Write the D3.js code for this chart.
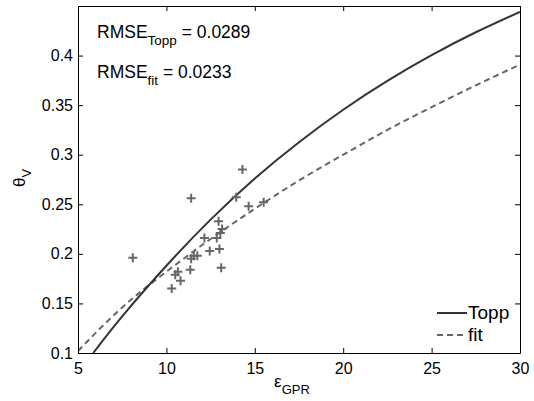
<!DOCTYPE html>
<html>
<head>
<meta charset="utf-8">
<script src="https://cdn.jsdelivr.net/npm/d3@7.9.0/dist/d3.min.js"></script>
<style>
  body { margin: 0; background: #fff; }
  svg { font-family: "Liberation Sans", Arial, sans-serif; }
</style>
</head>
<body>
<svg id="chart"></svg>
<script>
// measured points (permittivity, water content)
let epsMeas = [8.1, 10.3, 10.5, 10.65, 10.8, 11.35, 11.4, 11.55, 11.75, 12.15, 12.45,
  12.85, 12.95, 13.0, 13.05, 13.15, 13.1, 11.4, 13.95, 14.3, 14.65, 15.5];
let thetaMeas = [0.196, 0.165, 0.179, 0.182, 0.173, 0.184, 0.195, 0.198, 0.198, 0.216, 0.203,
  0.216, 0.233, 0.205, 0.221, 0.225, 0.186, 0.256, 0.257, 0.285, 0.248, 0.252];

// curves
let toppEps = [5.86, 7.5, 10, 12.5, 15, 17.5, 20, 22.5, 25, 27.5, 30];
let toppTheta = [0.100, 0.137, 0.188, 0.2345, 0.276, 0.3126, 0.3454, 0.3745, 0.4004, 0.4235, 0.4441];
let fitEps = [5, 7.5, 10, 12.5, 15, 17.5, 20, 22.5, 25, 27.5, 30];
let fitTheta = [0.102, 0.146, 0.182, 0.215, 0.2455, 0.274, 0.300, 0.325, 0.348, 0.370, 0.391];

let xTicks = [5, 10, 15, 20, 25, 30];
let yTicks = [0.1, 0.15, 0.2, 0.25, 0.3, 0.35, 0.4];

let svg = d3.select('#chart').attr('width', 534).attr('height', 401);
let margin = { top: 6, right: 14, bottom: 48, left: 78 };
let width = 534 - margin.left - margin.right;
let height = 401 - margin.top - margin.bottom;
let g = svg.append('g').attr('transform', `translate(${margin.left},${margin.top})`);

let x = d3.scaleLinear().domain([5, 30]).range([0, width]);
let y = d3.scaleLinear().domain([0.1, 0.45]).range([height, 0]);

g.append('defs').append('clipPath').attr('id', 'clip')
  .append('rect').attr('width', width).attr('height', height);

let line = d3.line().x(d => x(d[0])).y(d => y(d[1])).curve(d3.curveNatural);

let plot = g.append('g').attr('clip-path', 'url(#clip)');

plot.append('path')
  .datum(d3.zip(fitEps, fitTheta))
  .attr('d', line)
  .attr('fill', 'none')
  .attr('stroke', '#666')
  .attr('stroke-width', 2)
  .attr('stroke-dasharray', '6,4');

plot.append('path')
  .datum(d3.zip(toppEps, toppTheta))
  .attr('d', line)
  .attr('fill', 'none')
  .attr('stroke', '#333')
  .attr('stroke-width', 2);

let s = 4.5;
g.selectAll('path.pt')
  .data(d3.zip(epsMeas, thetaMeas))
  .join('path')
  .attr('class', 'pt')
  .attr('d', d => `M${x(d[0]) - s},${y(d[1])}H${x(d[0]) + s}M${x(d[0])},${y(d[1]) - s}V${y(d[1]) + s}`)
  .attr('stroke', '#666')
  .attr('stroke-width', 2)
  .attr('fill', 'none');

// axes, MATLAB style: inward ticks on all four sides
let fmt = d => String(d);
g.append('g')
  .attr('transform', `translate(0,${height})`)
  .call(d3.axisBottom(x).tickValues(xTicks).tickSizeInner(-5).tickSizeOuter(0).tickPadding(10).tickFormat(fmt));
g.append('g')
  .call(d3.axisTop(x).tickValues(xTicks).tickSizeInner(-5).tickSizeOuter(0).tickFormat(''));
g.append('g')
  .call(d3.axisLeft(y).tickValues(yTicks).tickSizeInner(-5).tickSizeOuter(0).tickPadding(5).tickFormat(fmt));
g.append('g')
  .attr('transform', `translate(${width},0)`)
  .call(d3.axisRight(y).tickValues(yTicks).tickSizeInner(-5).tickSizeOuter(0).tickFormat(''));

g.selectAll('.domain').attr('stroke', '#000');
g.selectAll('.tick line').attr('stroke', '#000');
g.selectAll('.tick text').attr('font-size', 16).attr('fill', '#000')
  .attr('font-family', '"Liberation Sans", Arial, sans-serif');

// axis labels
let xl = svg.append('text')
  .attr('x', 292).attr('y', 387)
  .attr('text-anchor', 'middle')
  .attr('font-size', 17);
xl.append('tspan').text('ε');
xl.append('tspan').attr('dy', 7).attr('font-size', 13).text('GPR');

let yl = svg.append('text')
  .attr('transform', 'translate(25,178) rotate(-90)')
  .attr('text-anchor', 'middle')
  .attr('font-size', 17);
yl.append('tspan').text('θ');
yl.append('tspan').attr('dy', 6).attr('font-size', 13).text('V');

// RMSE annotations
let notes = [
  { sub: 'Topp', val: '0.0289', yy: 38 },
  { sub: 'fit', val: '0.0233', yy: 78 }
];
notes.forEach(n => {
  let t = svg.append('text').attr('x', 97).attr('y', n.yy).attr('font-size', 17.5);
  t.append('tspan').text('RMSE');
  t.append('tspan').attr('dy', 7).attr('font-size', 13.5).text(n.sub);
  t.append('tspan').attr('dy', -7).text(' = ' + n.val);
});

// legend
let legend = svg.append('g');
let items = [
  { name: 'Topp', color: '#333', dash: null, yy: 313 },
  { name: 'fit', color: '#666', dash: '6,4', yy: 335 }
];
items.forEach(it => {
  legend.append('line')
    .attr('x1', 437).attr('x2', 467)
    .attr('y1', it.yy).attr('y2', it.yy)
    .attr('stroke', it.color)
    .attr('stroke-width', 2)
    .attr('stroke-dasharray', it.dash);
  legend.append('text')
    .attr('x', 468).attr('y', it.yy + 6)
    .attr('font-size', 19)
    .text(it.name);
});
</script>
</body>
</html>
